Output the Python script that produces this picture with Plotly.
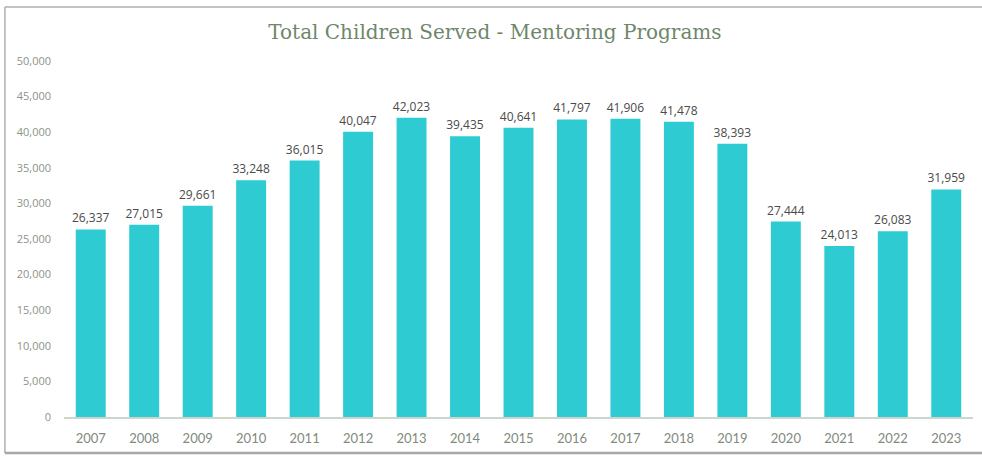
import plotly.graph_objects as go

years = ["2007", "2008", "2009", "2010", "2011", "2012", "2013", "2014", "2015",
         "2016", "2017", "2018", "2019", "2020", "2021", "2022", "2023"]
children = [26337, 27015, 29661, 33248, 36015, 40047, 42023, 39435, 40641,
            41797, 41906, 41478, 38393, 27444, 24013, 26083, 31959]
y_ticks = [0, 5000, 10000, 15000, 20000, 25000, 30000, 35000, 40000, 45000, 50000]

fig = go.Figure(go.Bar(
    x=years, y=children,
    marker=dict(color="#2ECBD3", line=dict(width=0)),
    text=[f"{v:,}" for v in children],
    textposition="outside",
    constraintext="none",
    textfont=dict(family="Open Sans", size=12, color="#4a4a4a"),
    cliponaxis=False,
))

fig.update_layout(
    width=982, height=456,
    margin=dict(l=64, r=9, t=61, b=39),
    paper_bgcolor="white", plot_bgcolor="white",
    bargap=0.44,
    showlegend=False,
    uniformtext=dict(mode=False),
    title=dict(text="Total Children Served - Mentoring Programs",
               x=0.504, xanchor="center", y=0.93, yanchor="middle",
               font=dict(family="DejaVu Serif", size=20, color="#6E876B")),
    xaxis=dict(showgrid=False, showline=True, linecolor="#CCD6CC", linewidth=2,
               ticks="", tickfont=dict(family="Lato", size=13, color="#7F8A7D"),
               ticklabelstandoff=8),
    yaxis=dict(range=[0, 50000], tickvals=y_ticks, tickformat=",",
               showgrid=False, zeroline=False, showline=False, ticks="",
               tickfont=dict(family="Open Sans", size=11, color="#8A9488"),
               ticklabelstandoff=12),
    shapes=[
        dict(type="line", xref="paper", yref="paper", x0=-0.065, x1=1.02, y0=1.1517, y1=1.1517,
             line=dict(color="#AFAFAF", width=1.5)),
        dict(type="line", xref="paper", yref="paper", x0=-0.065, x1=-0.065, y0=1.1517, y1=-0.1011,
             line=dict(color="#AFAFAF", width=1.5)),
        dict(type="line", xref="paper", yref="paper", x0=-0.065, x1=1.02, y0=-0.1011, y1=-0.1011,
             line=dict(color="#A8A8A8", width=2.5)),
    ],
)

fig.write_html("out.html", config={"displayModeBar": False},
               post_script="document.body.style.margin='0';")
